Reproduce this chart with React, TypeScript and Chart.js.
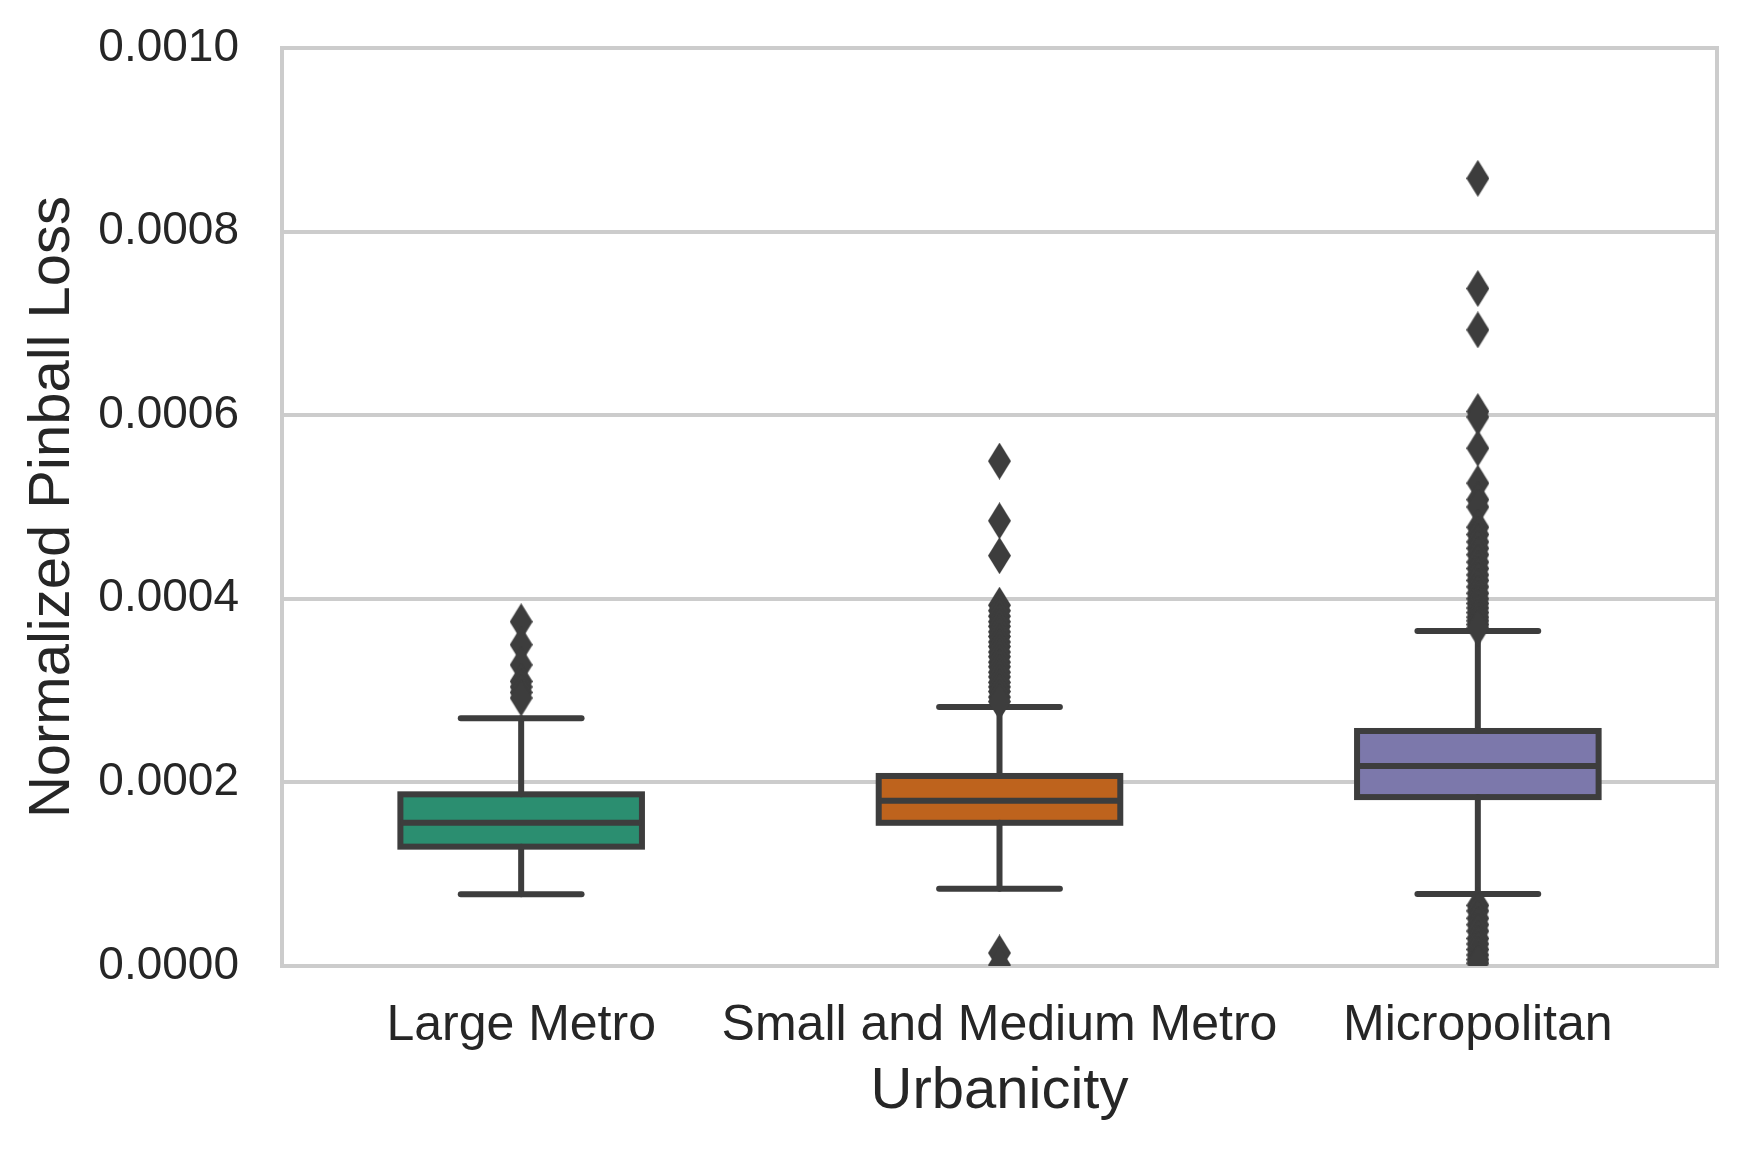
import React, { useEffect, useRef } from 'react';
import { Chart, registerables } from 'chart.js';

Chart.register(...registerables);

const categories = ['Large Metro', 'Small and Medium Metro', 'Micropolitan'];
const boxColors = ['#2b8e70', '#be631d', '#7c78ab'];
const q1Values = [0.00013, 0.000156, 0.000184];
const medianValues = [0.000156, 0.00018, 0.000218];
const q3Values = [0.000187, 0.000207, 0.000256];
const whiskerLowValues = [0.0000781, 0.0000842, 0.0000784];
const whiskerHighValues = [0.00027, 0.000282, 0.000365];
const outliersLargeMetro = [0.000375, 0.00035, 0.000328, 0.00031, 0.000304, 0.000298, 0.000292];
const outliersSmallMediumMetro = [
  0.00055, 0.000485, 0.000447, 0.000393, 0.000387, 0.000381, 0.000375, 0.00037, 0.000364,
  0.000359, 0.000353, 0.000348, 0.000342, 0.000337, 0.000331, 0.000326, 0.00032, 0.000315,
  0.000309, 0.000304, 0.000299, 0.000293, 0.000288, 0.0000142, 0.000001,
];
const outliersMicropolitan = [
  0.000858, 0.000738, 0.000693, 0.000604, 0.000598, 0.000564, 0.000526, 0.000508, 0.0005,
  0.000478, 0.00047, 0.000462, 0.000455, 0.000448, 0.00044, 0.000433, 0.000426, 0.00042,
  0.000413, 0.000406, 0.0004, 0.000395, 0.00039, 0.000385, 0.00038, 0.000376, 0.000372,
  0.000368, 0.000066, 0.00006, 0.000052, 0.000045, 0.000038, 0.00003, 0.000024, 0.000018,
  0.000012, 0.000007, 0.000003,
];
const yTickValues = [0, 0.0002, 0.0004, 0.0006, 0.0008, 0.001];
const xTitle = 'Urbanicity';
const yTitle = 'Normalized Pinball Loss';

const LINE = '#3d3d3d';
const TEXT = '#262626';
const GRID = '#cccccc';
const FONT = "'Liberation Sans', Arial, sans-serif";

export default function App() {
  const ref = useRef<HTMLCanvasElement>(null);

  useEffect(() => {
    document.body.style.margin = '0';
    const canvas = ref.current;
    if (!canvas) return;

    const diamond = document.createElement('canvas');
    diamond.width = 23;
    diamond.height = 37;
    const dctx = diamond.getContext('2d')!;
    dctx.fillStyle = LINE;
    dctx.beginPath();
    dctx.moveTo(11.5, 0);
    dctx.lineTo(23, 18.5);
    dctx.lineTo(11.5, 37);
    dctx.lineTo(0, 18.5);
    dctx.closePath();
    dctx.fill();

    const outlierGroups = [outliersLargeMetro, outliersSmallMediumMetro, outliersMicropolitan];
    const outlierPoints: { x: string; y: number }[] = [];
    outlierGroups.forEach((arr, i) => arr.forEach((v) => outlierPoints.push({ x: categories[i], y: v })));

    const boxPlugin = {
      id: 'boxDecor',
      beforeDatasetsDraw(chart: any) {
        const { ctx, chartArea: a } = chart;
        ctx.save();
        ctx.strokeStyle = GRID;
        ctx.lineWidth = 4;
        ctx.strokeRect(a.left, a.top, a.right - a.left, a.bottom - a.top);
        ctx.restore();
      },
      afterDatasetDraw(chart: any, args: any) {
        if (args.meta.type !== 'bar') return;
        const ctx = chart.ctx;
        const ys = chart.scales.y;
        ctx.save();
        ctx.strokeStyle = LINE;
        ctx.lineWidth = 6;
        const line = (x1: number, y1: number, x2: number, y2: number) => {
          ctx.beginPath();
          ctx.moveTo(x1, y1);
          ctx.lineTo(x2, y2);
          ctx.stroke();
        };
        args.meta.data.forEach((bar: any, i: number) => {
          const { x, width } = bar.getProps(['x', 'width'], true);
          const left = x - width / 2;
          const right = x + width / 2;
          const yq1 = ys.getPixelForValue(q1Values[i]);
          const yq3 = ys.getPixelForValue(q3Values[i]);
          const ymed = ys.getPixelForValue(medianValues[i]);
          const ylo = ys.getPixelForValue(whiskerLowValues[i]);
          const yhi = ys.getPixelForValue(whiskerHighValues[i]);
          ctx.lineCap = 'round';
          line(x, yq3, x, yhi);
          line(x, yq1, x, ylo);
          line(x - width / 4, yhi, x + width / 4, yhi);
          line(x - width / 4, ylo, x + width / 4, ylo);
          ctx.lineCap = 'butt';
          ctx.lineJoin = 'miter';
          ctx.strokeRect(left, yq3, width, yq1 - yq3);
          line(left, ymed, right, ymed);
        });
        ctx.restore();
      },
    };

    const chart = new Chart(canvas, {
      type: 'bar',
      data: {
        labels: categories,
        datasets: [
          {
            type: 'line',
            data: outlierPoints as any,
            showLine: false,
            pointStyle: diamond as any,
            pointRadius: 12,
            pointHoverRadius: 12,
            order: 0,
            clip: 0 as any,
          } as any,
          {
            type: 'bar',
            data: categories.map((_, i) => [q1Values[i], q3Values[i]]) as any,
            backgroundColor: boxColors,
            borderWidth: 0,
            barPercentage: 0.505,
            categoryPercentage: 1,
            order: 1,
          } as any,
        ],
      },
      options: {
        animation: false,
        responsive: false,
        devicePixelRatio: 1,
        layout: { padding: { top: 48, right: 29, left: 0, bottom: 0 } },
        plugins: { legend: { display: false }, tooltip: { enabled: false } },
        scales: {
          x: {
            afterFit: (s: any) => {
              s.height = 187;
              s.paddingLeft = 0;
              s.paddingRight = 0;
            },
            grid: { display: false },
            border: { display: false },
            ticks: {
              color: TEXT,
              font: { family: FONT, size: 50 },
              padding: 22,
              maxRotation: 0,
              autoSkip: false,
            },
            title: {
              display: true,
              text: xTitle,
              color: TEXT,
              font: { family: FONT, size: 58 },
              padding: { top: 0, bottom: 26 },
            },
          },
          y: {
            min: 0,
            max: 0.001,
            afterFit: (s: any) => {
              s.width = 282;
              s.paddingTop = 0;
              s.paddingBottom = 0;
            },
            afterBuildTicks: (s: any) => {
              s.ticks = yTickValues.map((v) => ({ value: v }));
            },
            grid: { color: GRID, lineWidth: 4, drawTicks: false },
            border: { display: false },
            ticks: {
              color: TEXT,
              font: { family: FONT, size: 46 },
              padding: 43,
              callback: (v: any) => Number(v).toFixed(4),
            },
            title: {
              display: true,
              text: yTitle,
              color: TEXT,
              font: { family: FONT, size: 58 },
              padding: { top: 18, bottom: 0 },
            },
          },
        },
      },
      plugins: [boxPlugin],
    } as any);

    return () => chart.destroy();
  }, []);

  return (
    <div style={{ width: 1746, height: 1153 }}>
      <canvas ref={ref} width={1746} height={1153} style={{ display: 'block', width: 1746, height: 1153 }} />
    </div>
  );
}
